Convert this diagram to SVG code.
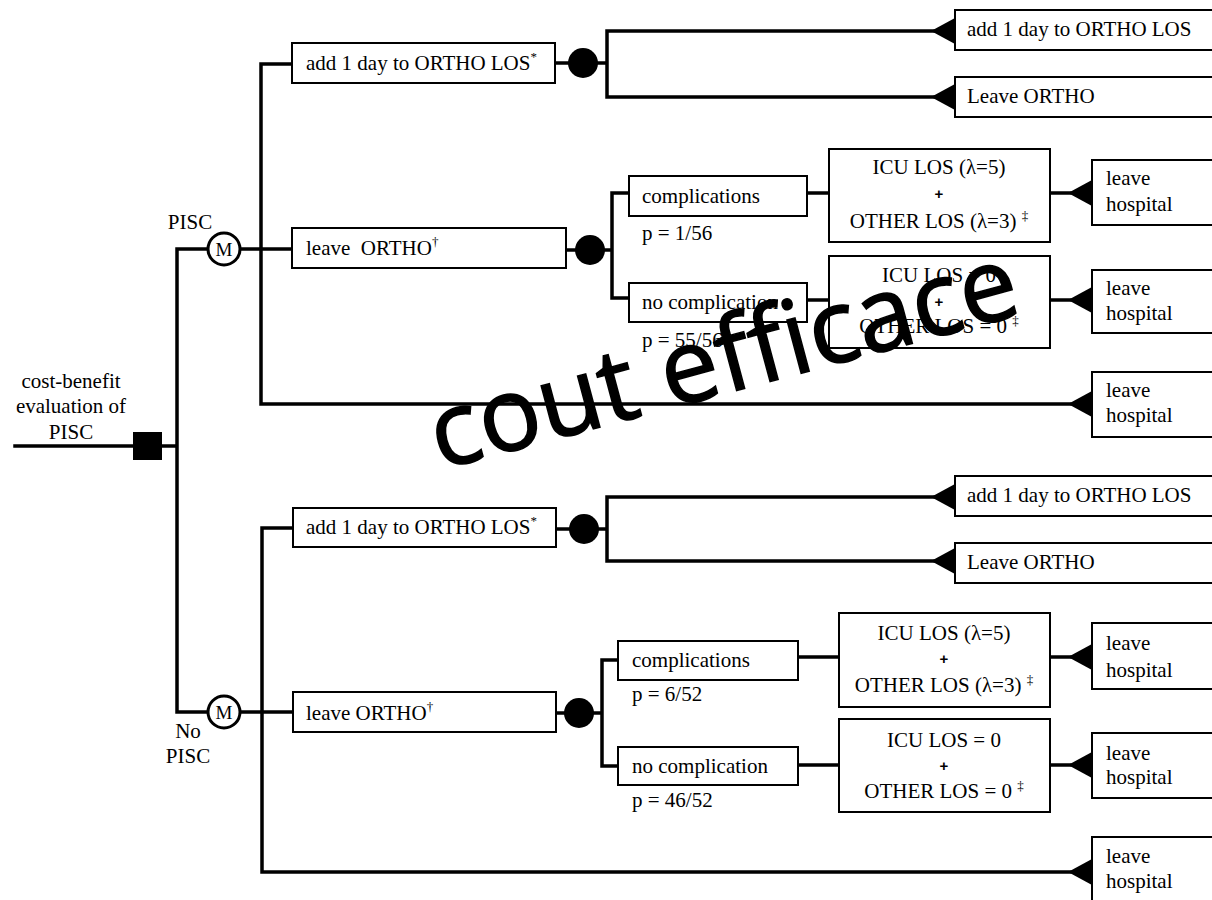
<svg xmlns="http://www.w3.org/2000/svg" width="1212" height="900" viewBox="0 0 1212 900">
  <style>
    .t { font-family: "Liberation Serif", "Times New Roman", serif; font-size: 21px; fill: #000; }
    .c { text-anchor: middle; }
    .plus { font-family: "Liberation Sans", Arial, sans-serif; font-size: 15px; font-weight: bold; text-anchor: middle; }
    .sup { font-size: 13px; }
    .box { fill: #fff; stroke: #000; stroke-width: 2; }
    .ln { fill: none; stroke: #000; stroke-width: 3.5; stroke-linejoin: miter; stroke-linecap: square; }
    .chance { fill: #000; }
    .markov { fill: #fff; stroke: #000; stroke-width: 3; }
    .wm { font-family: "Open Sans", "Noto Sans", sans-serif; font-size: 103px; fill: #000; stroke: #000; stroke-width: 1.5; }
  </style>
  <defs>
    <!-- terminal node: left-pointing filled triangle, tip at origin -->
    <path id="term" d="M0,0 L24,-13 L24,13 Z" fill="#000"/>
  </defs>
  <rect width="1212" height="900" fill="#fff"/>

  <!-- connectors -->
  <g id="connectors">
    <!-- root -->
    <path class="ln" d="M15,446 H177 M177,249 V712 M177,249 H208 M177,712 H208"/>
    <!-- PISC branch -->
    <path class="ln" d="M240,249 H292 M261,64 V404 M261,64 H292 M261,404 H1070"/>
    <path class="ln" d="M555,63 H607 M607,31 V97 M607,31 H934 M607,97 H934"/>
    <path class="ln" d="M566,250 H612 M612,193 V298 M612,193 H629 M612,298 H629"/>
    <path class="ln" d="M807,193 H829 M1050,193 H1070 M807,300 H829 M1050,300 H1070"/>
    <!-- No PISC branch -->
    <path class="ln" d="M240,712 H293 M262,528 V872 M262,528 H293 M262,872 H1070"/>
    <path class="ln" d="M556,529 H607 M607,497 V561 M607,497 H934 M607,561 H934"/>
    <path class="ln" d="M556,713 H602 M602,660 V766 M602,660 H618 M602,766 H618"/>
    <path class="ln" d="M798,657 H839 M1050,657 H1070 M798,765 H839 M1050,765 H1070"/>
    <!-- terminal arrowheads -->
    <use href="#term" x="931" y="31"/>
    <use href="#term" x="931" y="97"/>
    <use href="#term" x="1068" y="193"/>
    <use href="#term" x="1068" y="300"/>
    <use href="#term" x="1068" y="404"/>
    <use href="#term" x="931" y="497"/>
    <use href="#term" x="931" y="561"/>
    <use href="#term" x="1068" y="657"/>
    <use href="#term" x="1068" y="765"/>
    <use href="#term" x="1068" y="872"/>
  </g>

  <!-- decision node -->
  <g id="decision">
    <rect x="133" y="432" width="29" height="28" fill="#000"/>
    <text class="t c" x="71" y="388">cost-benefit</text>
    <text class="t c" x="71" y="413">evaluation of</text>
    <text class="t c" x="71" y="439">PISC</text>
  </g>

  <!-- Markov nodes -->
  <g id="markov-pisc">
    <circle class="markov" cx="224" cy="249" r="16"/>
    <text class="t c" x="224" y="256" style="font-size:19px">M</text>
    <text class="t c" x="190" y="229">PISC</text>
  </g>
  <g id="markov-nopisc">
    <circle class="markov" cx="224" cy="712" r="16"/>
    <text class="t c" x="224" y="719" style="font-size:19px">M</text>
    <text class="t c" x="188" y="738">No</text>
    <text class="t c" x="188" y="763">PISC</text>
  </g>

  <!-- PISC: states -->
  <g id="pisc-add-day">
    <rect class="box" x="292" y="43" width="263" height="40"/>
    <text class="t" x="306" y="70">add 1 day to ORTHO LOS<tspan class="sup" dy="-9">*</tspan></text>
    <circle class="chance" cx="583" cy="63" r="15"/>
  </g>
  <g id="pisc-add-day-stay">
    <rect class="box" x="955" y="10" width="270" height="40"/>
    <text class="t" x="967" y="36">add 1 day to ORTHO LOS</text>
  </g>
  <g id="pisc-add-day-leave">
    <rect class="box" x="955" y="77" width="270" height="40"/>
    <text class="t" x="967" y="103">Leave ORTHO</text>
  </g>
  <g id="pisc-leave-ortho">
    <rect class="box" x="292" y="228" width="274" height="40"/>
    <text class="t" x="306" y="255" xml:space="preserve">leave  ORTHO<tspan class="sup" dy="-9">†</tspan></text>
    <circle class="chance" cx="590" cy="250" r="15"/>
  </g>
  <g id="pisc-complications">
    <rect class="box" x="629" y="176" width="178" height="40"/>
    <text class="t" x="642" y="203">complications</text>
    <text class="t" x="642" y="240">p = 1/56</text>
  </g>
  <g id="pisc-no-complication">
    <rect class="box" x="629" y="283" width="178" height="39"/>
    <text class="t" x="642" y="309">no complication</text>
    <text class="t" x="642" y="347">p = 55/56</text>
  </g>
  <g id="pisc-icu-los">
    <rect class="box" x="829" y="149" width="221" height="93"/>
    <text class="t c" x="939" y="174">ICU LOS (λ=5)</text>
    <text class="plus" x="939" y="199">+</text>
    <text class="t c" x="939" y="228">OTHER LOS (λ=3) <tspan class="sup" dy="-8">‡</tspan></text>
  </g>
  <g id="pisc-icu-zero">
    <rect class="box" x="829" y="256" width="221" height="92"/>
    <text class="t c" x="939" y="282">ICU LOS = 0</text>
    <text class="plus" x="939" y="307">+</text>
    <text class="t c" x="939" y="333">OTHER LOS = 0 <tspan class="sup" dy="-8">‡</tspan></text>
  </g>
  <g id="pisc-leave-1">
    <rect class="box" x="1092" y="160" width="130" height="65"/>
    <text class="t" x="1106" y="185">leave</text>
    <text class="t" x="1106" y="211">hospital</text>
  </g>
  <g id="pisc-leave-2">
    <rect class="box" x="1092" y="270" width="130" height="63"/>
    <text class="t" x="1106" y="295">leave</text>
    <text class="t" x="1106" y="320">hospital</text>
  </g>
  <g id="pisc-leave-3">
    <rect class="box" x="1092" y="372" width="130" height="65"/>
    <text class="t" x="1106" y="397">leave</text>
    <text class="t" x="1106" y="422">hospital</text>
  </g>

  <!-- No PISC: states -->
  <g id="nopisc-add-day">
    <rect class="box" x="293" y="508" width="263" height="39"/>
    <text class="t" x="306" y="534">add 1 day to ORTHO LOS<tspan class="sup" dy="-9">*</tspan></text>
    <circle class="chance" cx="584" cy="529" r="15"/>
  </g>
  <g id="nopisc-add-day-stay">
    <rect class="box" x="955" y="476" width="270" height="40"/>
    <text class="t" x="967" y="502">add 1 day to ORTHO LOS</text>
  </g>
  <g id="nopisc-add-day-leave">
    <rect class="box" x="955" y="543" width="270" height="40"/>
    <text class="t" x="967" y="569">Leave ORTHO</text>
  </g>
  <g id="nopisc-leave-ortho">
    <rect class="box" x="293" y="692" width="263" height="40"/>
    <text class="t" x="306" y="720">leave ORTHO<tspan class="sup" dy="-9">†</tspan></text>
    <circle class="chance" cx="579" cy="713" r="15"/>
  </g>
  <g id="nopisc-complications">
    <rect class="box" x="618" y="641" width="180" height="39"/>
    <text class="t" x="632" y="667">complications</text>
    <text class="t" x="632" y="701">p = 6/52</text>
  </g>
  <g id="nopisc-no-complication">
    <rect class="box" x="618" y="747" width="180" height="38"/>
    <text class="t" x="632" y="773">no complication</text>
    <text class="t" x="632" y="807">p = 46/52</text>
  </g>
  <g id="nopisc-icu-los">
    <rect class="box" x="839" y="613" width="211" height="94"/>
    <text class="t c" x="944" y="640">ICU LOS (λ=5)</text>
    <text class="plus" x="944" y="664">+</text>
    <text class="t c" x="944" y="692">OTHER LOS (λ=3) <tspan class="sup" dy="-8">‡</tspan></text>
  </g>
  <g id="nopisc-icu-zero">
    <rect class="box" x="839" y="719" width="211" height="93"/>
    <text class="t c" x="944" y="747">ICU LOS = 0</text>
    <text class="plus" x="944" y="771">+</text>
    <text class="t c" x="944" y="798">OTHER LOS = 0 <tspan class="sup" dy="-8">‡</tspan></text>
  </g>
  <g id="nopisc-leave-1">
    <rect class="box" x="1092" y="623" width="130" height="66"/>
    <text class="t" x="1106" y="650">leave</text>
    <text class="t" x="1106" y="677">hospital</text>
  </g>
  <g id="nopisc-leave-2">
    <rect class="box" x="1092" y="733" width="130" height="65"/>
    <text class="t" x="1106" y="760">leave</text>
    <text class="t" x="1106" y="784">hospital</text>
  </g>
  <g id="nopisc-leave-3">
    <rect class="box" x="1092" y="837" width="130" height="80"/>
    <text class="t" x="1106" y="863">leave</text>
    <text class="t" x="1106" y="888">hospital</text>
  </g>

  <!-- overprinted caption -->
  <text class="wm" x="440" y="470" transform="rotate(-15 440 470)">cout efficace</text>
</svg>
